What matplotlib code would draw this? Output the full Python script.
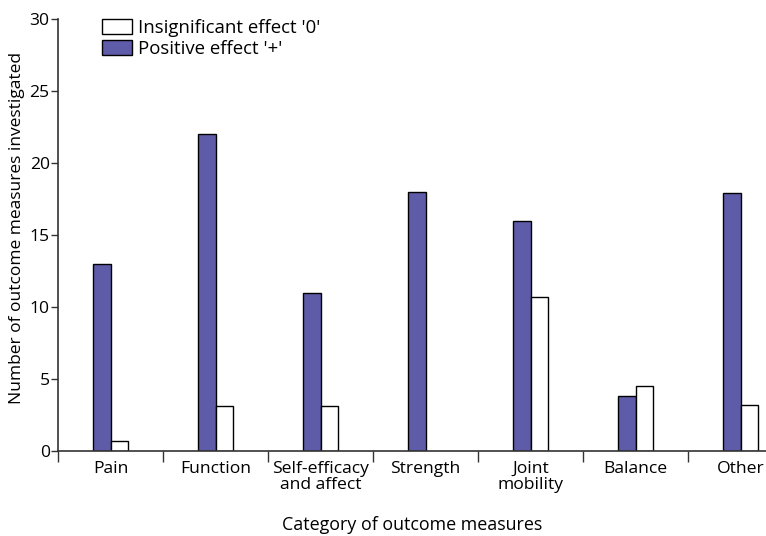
import matplotlib.pyplot as plt
import numpy as np

categories = ["Pain", "Function", "Self-efficacy\nand affect", "Strength",
              "Joint\nmobility", "Balance", "Other"]
positive = [13, 22, 11, 18, 16, 3.8, 17.9]
insignificant = [0.7, 3.1, 3.1, 0, 10.7, 4.5, 3.2]

plt.rcParams['font.family'] = ['Open Sans', 'DejaVu Sans']
fs = 12.6

fig = plt.figure(figsize=(7.66, 5.36), dpi=100)
ax = fig.add_axes([58 / 766, 85 / 536, 1 - 58 / 766, (451 - 19) / 536])

x = np.arange(len(categories)) + 0.5
w = 0.171
purple = '#5e5ca8'

ax.bar(x - w / 2, positive, w, color=purple, edgecolor='black', linewidth=1.0,
       label="Positive effect '+'")
ins = [v if v > 0 else np.nan for v in insignificant]
ax.bar(x + w / 2, ins, w, color='white', edgecolor='black', linewidth=1.0,
       label="Insignificant effect '0'")

ax.set_xlim(0, 708 / 105)
ax.set_ylim(0, 30)
ax.set_yticks([0, 5, 10, 15, 20, 25, 30])
ax.tick_params(axis='y', labelsize=fs, length=5, width=1.0, pad=1, color='#333333')

# category boundary ticks below axis, labels at centres
ax.set_xticks(np.arange(0, 7), minor=False)
ax.set_xticklabels([])
ax.tick_params(axis='x', which='major', length=8, width=1.0, direction='out', color='#333333')
ax.set_xticks(x, minor=True)
ax.set_xticklabels(categories, minor=True, fontsize=fs, linespacing=1.0)
ax.tick_params(axis='x', which='minor', length=0, pad=7)

for s in ['top', 'right']:
    ax.spines[s].set_visible(False)
for s in ['left', 'bottom']:
    ax.spines[s].set_color('#333333')
    ax.spines[s].set_linewidth(1.2)

ax.set_ylabel("Number of outcome measures investigated", fontsize=12.5)
ax.yaxis.set_label_coords(-0.047, 0.516)
ax.set_xlabel("Category of outcome measures", fontsize=12.9, labelpad=17)

handles, labels = ax.get_legend_handles_labels()
ax.legend(handles[::-1], labels[::-1], loc='upper left',
          bbox_to_anchor=(102 / 766, 1 - 19 / 536), bbox_transform=fig.transFigure,
          frameon=False, fontsize=13.4, handlelength=1.6, handleheight=0.9,
          handletextpad=0.35, labelspacing=0.15, borderpad=0, borderaxespad=0)

plt.savefig("out.png", dpi=100)
